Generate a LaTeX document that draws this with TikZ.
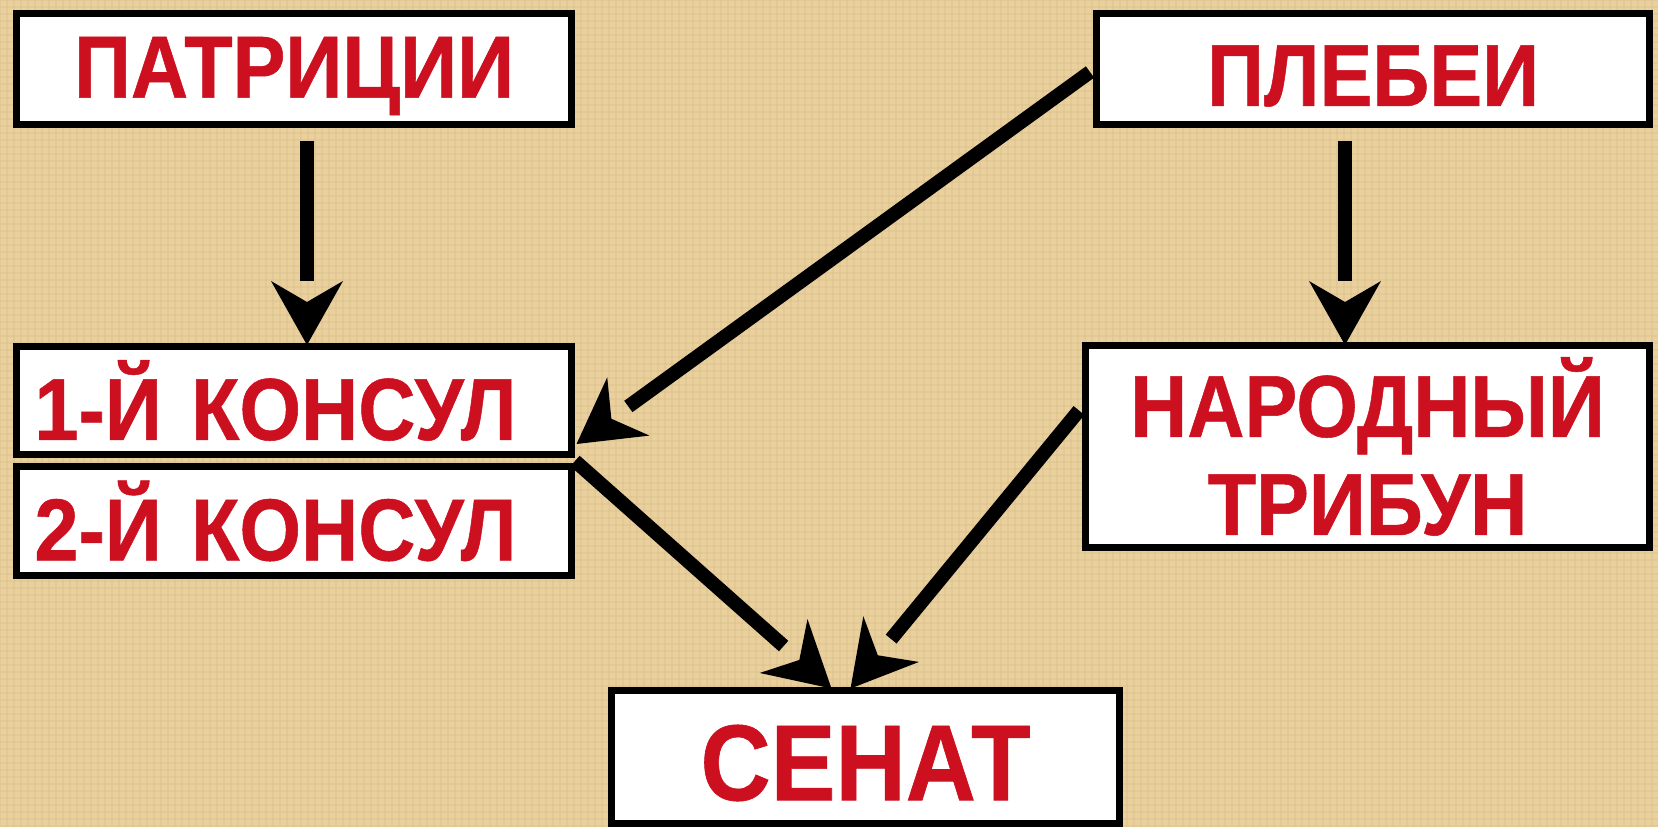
\documentclass[tikz,border=0pt]{standalone}
\usepackage{fontspec}
\newfontfamily\labfont{Liberation Sans}[FakeStretch=0.9,FakeBold=0.6]
\usetikzlibrary{arrows.meta,calc,decorations.markings}
\definecolor{bgtan}{RGB}{233,208,157}
\definecolor{bgline}{RGB}{214,188,136}
\definecolor{labred}{RGB}{204,16,32}
\newcommand{\lowertext}[2]{\raisebox{-#1}[\height][\depth]{#2}}
\begin{document}
\begin{tikzpicture}[x=0.5pt, y=-0.5pt,
  box/.style={draw=black, line width=3.5pt, fill=white, text=labred,
    font=\labfont\bfseries\fontsize{44}{49}\selectfont, inner sep=0pt},
  conn/.style={draw=black, line width=7pt, shorten >=32pt, postaction={decorate},
    decoration={markings, mark=at position 1 with {\arrow{Stealth[length=32pt,width=36pt,inset=10.5pt,line width=0pt]}}}}]
\fill[bgtan] (0,0) rectangle (1658,827);
\useasboundingbox (0,0) rectangle (1658,827);
\begin{scope}
\clip (0,0) rectangle (1658,827);
\foreach \i in {0,7,...,1658} \draw[bgline, line width=0.6pt, opacity=0.3] (\i,0) -- (\i,827);
\foreach \j in {0,7,...,827} \draw[bgline, line width=0.6pt, opacity=0.3] (0,\j) -- (1658,\j);
\end{scope}
\node[box, minimum width=277.5pt, minimum height=55.5pt] (pat) at (294,69) {\lowertext{3.5pt}{ПАТРИЦИИ}};
\node[box, minimum width=276.5pt, minimum height=55.5pt] (pleb) at (1373,69) {\lowertext{3.5pt}{ПЛЕБЕИ}};
\node[box, minimum height=54pt, text width=259.5pt, align=left, inner xsep=9pt] (k1) at (294,400.5) {1-Й КОНСУЛ};
\node[box, minimum height=54.5pt, text width=259.5pt, align=left, inner xsep=9pt] (k2) at (294,521) {2-Й КОНСУЛ};
\node[box, minimum width=282pt, minimum height=101pt, align=center] (trib) at (1367.5,446.5) {НАРОДНЫЙ\\ТРИБУН};
\node[box, minimum width=254pt, minimum height=66.5pt, font=\labfont\bfseries\fontsize{54}{60}\selectfont] (sen) at (865.5,757) {\lowertext{3pt}{СЕНАТ}};
\draw[conn] ($(pat.south)+(13,12.5)$) -- ($(k1.north)+(13,2)$);
\draw[conn] ($(pleb.south)+(-28,12.5)$) -- ($(trib.north)+(-22.5,3)$);
\draw[conn] ($(pleb.west)+(-3,3)$) -- ($(k1.south east)+(1.5,-14)$);
\draw[conn] ($(k1.south east)+(0,3)$) -- ($(sen.north)+(-34,1.5)$);
\draw[conn] ($(trib.west)+(-3,-36)$) -- ($(sen.north)+(-15,1.5)$);
\end{tikzpicture}
\end{document}
